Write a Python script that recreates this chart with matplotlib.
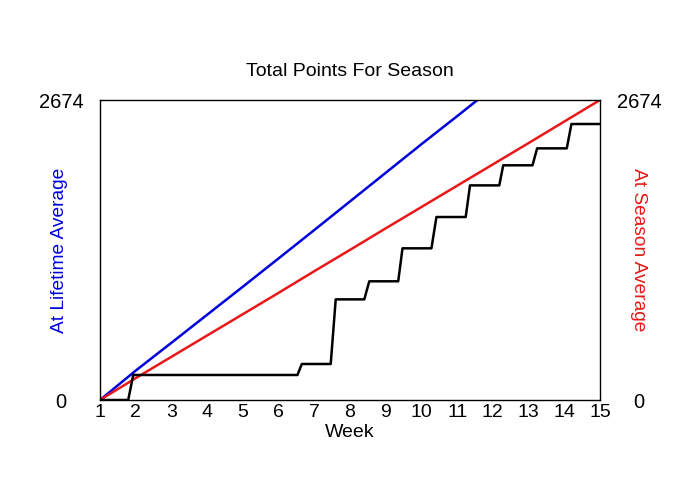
import matplotlib
matplotlib.use("Agg")
import matplotlib.pyplot as plt

plt.rcParams['font.family'] = ['Liberation Sans', 'DejaVu Sans']

# week numbers and running totals
blue_weeks = [1, 2, 3, 4, 5, 6, 7, 8, 9, 10, 11, 11.57]
blue_vals = [0, 262, 510, 760, 1010, 1262, 1515, 1770, 2025, 2280, 2530, 2674]

red_weeks = [1, 2, 3, 4, 5, 6, 7, 8, 9, 10, 11, 12, 13, 14, 15]
red_vals = [0, 195, 385, 575, 765, 955, 1148, 1338, 1530, 1720, 1910, 2100, 2290, 2482, 2674]

black_weeks = [1, 1.79, 1.93, 6.53, 6.65, 7.46, 7.60, 8.40, 8.54, 9.35, 9.47,
               10.28, 10.42, 11.24, 11.36, 12.18, 12.29, 13.11, 13.24, 14.07, 14.20, 15]
black_vals = [0, 0, 223, 223, 321, 321, 897, 897, 1058, 1058, 1352,
              1352, 1631, 1631, 1913, 1913, 2092, 2092, 2243, 2243, 2460, 2460]

week_ticks = list(range(1, 16))
y_max = 2674

fig = plt.figure(figsize=(7, 5), dpi=100)
ax = fig.add_axes([100/700, 100/500, 500/700, 300/500])

ax.plot(blue_weeks, blue_vals, color="#0000dd", lw=1.8)
ax.plot(red_weeks, red_vals, color="#e81818", lw=1.8)
ax.plot(black_weeks, black_vals, color="black", lw=1.8)

ax.set_xlim(1, 15)
ax.set_ylim(0, y_max)
ax.set_xticks(week_ticks)
ax.set_xticklabels([str(w) for w in week_ticks], fontsize=14)
ax.set_yticks([0, y_max])
ax.set_yticklabels(["0", str(y_max)], fontsize=14.5)
ax.tick_params(axis='x', length=0, pad=3)
ax.tick_params(axis='y', length=0, pad=28, labelright=True)
for t in ax.yaxis.get_major_ticks():
    t.label1.set_horizontalalignment('center')
    t.label2.set_horizontalalignment('center')

for s in ax.spines.values():
    s.set_linewidth(1)

ax.set_xlabel("Week", fontsize=14, labelpad=2)
fig.text(0.5, 1 - 72/500, "Total Points For Season", ha='center', va='center', fontsize=14)
fig.text(60/700, 250/500, "At Lifetime Average", color="#0000dd", rotation=90,
         ha='center', va='center', fontsize=13.8)
fig.text(638/700, 250/500, "At Season Average", color="#e81818", rotation=270,
         ha='center', va='center', fontsize=13.8)

fig.savefig("out.png", dpi=100)
